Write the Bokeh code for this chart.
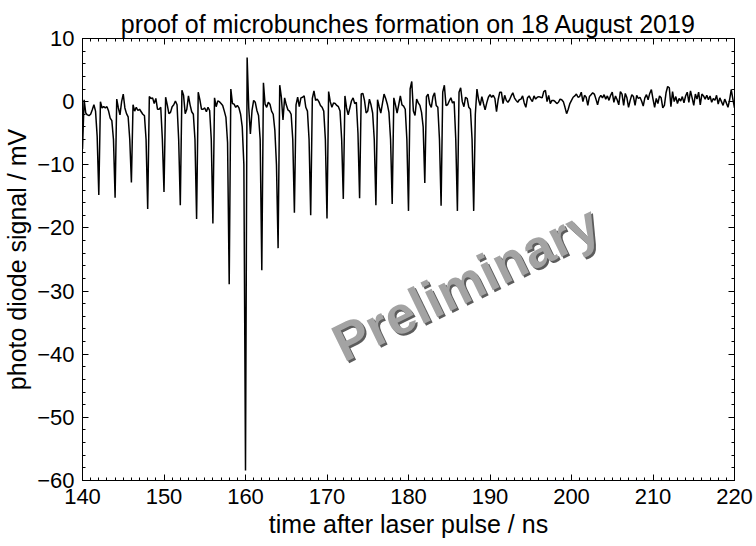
import numpy as np
from bokeh.plotting import figure
from bokeh.models import LinearAxis, Range1d, SingleIntervalTicker
from bokeh.embed import file_html
from bokeh.resources import INLINE
from bokeh.core.properties import value

FONT = "Liberation Sans"

title_text = "proof of microbunches formation on 18 August 2019"
x_label = "time after laser pulse / ns"
y_label = "photo diode signal / mV"
watermark_text = "Preliminary"
watermark_x_ns = 187.0
watermark_y_mV = -28.7

x_start_ns = 140.0
x_end_ns = 220.0
y_min_mV = -60.0
y_max_mV = 10.0
sample_step_ns = 0.2

lead_in_mV = [-7.5, 0.3, -1.8, -2.1, -2.2, -2.0, -1.3, -0.5, -1.5, -5.5]

# bottom of each of the 24 micro-bunch dips (142, 144, ... 188 ns)
dip_depth_mV = [-14.8, -15.2, -12.8, -17.0, -14.3, -16.4, -18.6, -19.3,
                -28.9, -58.4, -26.7, -23.2, -17.6, -18.0, -18.5, -15.4,
                -15.3, -16.4, -16.2, -17.3, -12.9, -16.5, -17.3, -17.3]

# samples between consecutive dips
between_mV = [
    [0.0, -1.0, -0.8, -1.0, -0.8, -1.5, -2.6, -3.0, -6.0],
    [0.4, -1.0, -2.1, 0.0, 1.2, -1.0, -1.9, -2.4, -6.0],
    [-0.5, -1.5, -0.9, -1.4, -1.2, -1.6, -2.0, -2.2, -6.0],
    [0.8, 0.5, 0.6, -0.3, 0.5, -1.2, -1.2, -0.9, -6.0],
    [0.7, -0.5, -1.9, -1.7, -0.8, -0.5, 0.1, -0.5, -6.0],
    [1.8, 1.0, -1.9, -1.2, 0.9, -0.5, -1.6, -2.0, -6.0],
    [1.5, 0.3, -1.2, -1.2, -1.0, -1.6, -0.9, -1.4, -6.0],
    [0.6, -0.8, 0.1, 0.0, -0.3, -0.6, -1.5, -2.5, -6.5],
    [2.0, -0.3, -0.4, -0.9, -0.6, -1.0, -2.0, -4.0, -10.0],
    [7.0, -1.0, -5.1, -1.4, 0.2, -0.1, -1.4, -2.2, -6.0],
    [3.0, -0.4, -0.9, -0.1, -0.4, -1.5, -2.0, -4.5, -10.0],
    [2.6, 0.7, -2.9, 0.6, -0.5, -1.3, -1.5, -2.0, -6.0],
    [-0.5, 0.7, -0.8, 0.6, 0.7, 0.9, -0.9, -1.5, -6.0],
    [0.5, 1.7, 0.2, 0.4, 0.0, -0.6, -0.9, -1.5, -6.0],
    [1.6, 0.0, -0.9, -0.2, -0.3, -0.6, -0.8, -1.5, -6.0],
    [0.9, -1.0, -2.1, -1.0, 0.1, 0.6, -0.3, -0.1, -5.0],
    [1.2, 1.3, 0.2, -1.8, -1.5, 0.4, -0.5, -1.8, -6.0],
    [0.3, -0.8, -1.8, -0.3, 1.2, 0.5, -0.4, -1.7, -6.0],
    [0.6, -0.5, -1.8, -0.5, 0.9, -0.5, -0.7, -1.2, -6.0],
    [2.0, 3.2, -1.5, -2.2, 0.4, -0.2, -0.6, -1.7, -4.0],
    [0.8, 1.2, -0.4, -0.9, 0.8, 1.4, -0.6, -0.9, -6.0],
    [1.5, 2.6, -0.6, -0.5, 0.1, 0.6, -0.2, 0.0, -6.0],
    [1.5, 2.2, 0.0, -0.8, 0.7, 0.5, -0.9, -1.2, -6.0],
]

# after the bunch train (188.2 ns ... 220 ns)
tail_mV = [
    -2.0, 2.0, 0.3, -0.6, 0.8, -0.3, -1.3, -0.2, 0.7, 1.1,
    0.7, 1.0, 0.5, -1.6, 0.3, 1.5, 1.5, -0.3, 1.0, 0.2,
    -0.1, 0.3, 0.9, 1.4, 0.6, 0.2, -0.1, 0.3, 0.4, 0.9,
    -0.2, -0.9, 0.6, 0.9, 0.4, 0.0, 0.9, 0.4, 0.7, 0.8,
    0.7, 0.6, 1.6, 1.8, 0.0, 1.0, -0.3, 0.2, 0.2, 0.0,
    -0.3, -0.1, 0.4, 0.3, 0.0, -0.9, -1.9, -1.2, -0.3, 0.2,
    0.7, 0.9, 1.2, 0.7, 0.8, 1.5, 0.0, 1.0, 0.7, -0.6,
    0.8, 1.1, 1.4, 1.2, 0.4, -0.5, 0.6,
    1.0, 0.6, 1.1, 0.4, 0.9, 0.2, 1.0, 1.5, -0.1, 0.9,
    0.3, -0.5, 1.6, 1.2, -0.6, 1.3, 0.6, -0.9, 0.2, 1.1,
    0.8, -0.6, 1.0, 0.5, 0.7, 0.1, -0.7, 0.6, 1.1, 0.3,
    1.3, 1.9, 0.4, -0.9, 0.5, -0.3, 0.9, 0.6, -1.0, -0.6,
    1.4, 2.4, 2.2, -0.8, 1.6, 0.0, 0.8, -0.3, 0.5, 0.1,
    0.8, -0.2, 0.9, 1.5, -0.1, 1.7, 0.6, -0.6, 1.2, 0.4,
    1.5, -0.5, 1.2, 0.9, 0.4, 1.0, 0.3, 0.9, -0.1, 0.5,
    0.2, 1.0, -0.4, 0.6, 0.0, -0.6, 0.4, -0.2, -0.9, 0.3,
    1.9, 0.4, -1.0,
]

signal_mV = list(lead_in_mV)
for k, depth in enumerate(dip_depth_mV):
    signal_mV.append(depth)
    if k < len(between_mV):
        signal_mV.extend(between_mV[k])
signal_mV.extend(tail_mV)
time_ns = x_start_ns + sample_step_ns * np.arange(len(signal_mV))

p = figure(width=756, height=546,
           x_range=Range1d(x_start_ns, x_end_ns), y_range=Range1d(y_min_mV, y_max_mV),
           output_backend="svg", toolbar_location=None,
           x_axis_location=None, y_axis_location=None,
           min_border_left=78, min_border_right=22, min_border_top=38, min_border_bottom=66)
p.background_fill_color = "white"
p.border_fill_color = "white"
p.outline_line_color = "black"
p.outline_line_width = 1
p.xgrid.visible = False
p.ygrid.visible = False

p.title.text = title_text
p.title.text_font = FONT
p.title.text_font_size = "25px"
p.title.text_font_style = "normal"
p.title.text_color = "black"
p.title.align = "center"
p.title.standoff = 2
p.title.offset = 0

def make_axis(interval, minor, show_labels, label=None):
    ax = LinearAxis(ticker=SingleIntervalTicker(interval=interval, num_minor_ticks=minor))
    ax.major_tick_in = 6
    ax.major_tick_out = 0
    ax.minor_tick_in = 3
    ax.minor_tick_out = 0
    ax.axis_line_color = "black"
    ax.major_tick_line_color = "black"
    ax.minor_tick_line_color = "black"
    ax.major_label_text_font = FONT
    if show_labels:
        ax.major_label_text_font_size = "22px"
        ax.major_label_text_color = "black"
        ax.major_label_standoff = 8
    else:
        ax.major_label_text_font_size = "1px"
        ax.major_label_text_color = None
        ax.major_label_standoff = 0
    if label:
        ax.axis_label = label
        ax.axis_label_text_font = FONT
        ax.axis_label_text_font_size = "25px"
        ax.axis_label_text_font_style = "normal"
        ax.axis_label_text_color = "black"
        ax.axis_label_standoff = 3
    return ax

p.add_layout(make_axis(10, 10, True, x_label), "below")
p.add_layout(make_axis(10, 5, True, y_label), "left")
p.add_layout(make_axis(10, 10, False), "above")
p.add_layout(make_axis(10, 5, False), "right")

p.line(time_ns, signal_mV, line_color="black", line_width=1.5)

# watermark with a dark shadow for the embossed look
p.text(x=[watermark_x_ns], y=[watermark_y_mV], text=[watermark_text],
       angle=26, angle_units="deg", x_offset=2, y_offset=2,
       text_font=value(FONT), text_font_size="53px", text_font_style="bold",
       text_color="#5c5c5c", text_align="center", text_baseline="middle")
p.text(x=[watermark_x_ns], y=[watermark_y_mV], text=[watermark_text],
       angle=26, angle_units="deg",
       text_font=value(FONT), text_font_size="53px", text_font_style="bold",
       text_color="#a3a3a3", text_align="center", text_baseline="middle")

open("out.html", "w").write(file_html(p, INLINE))
